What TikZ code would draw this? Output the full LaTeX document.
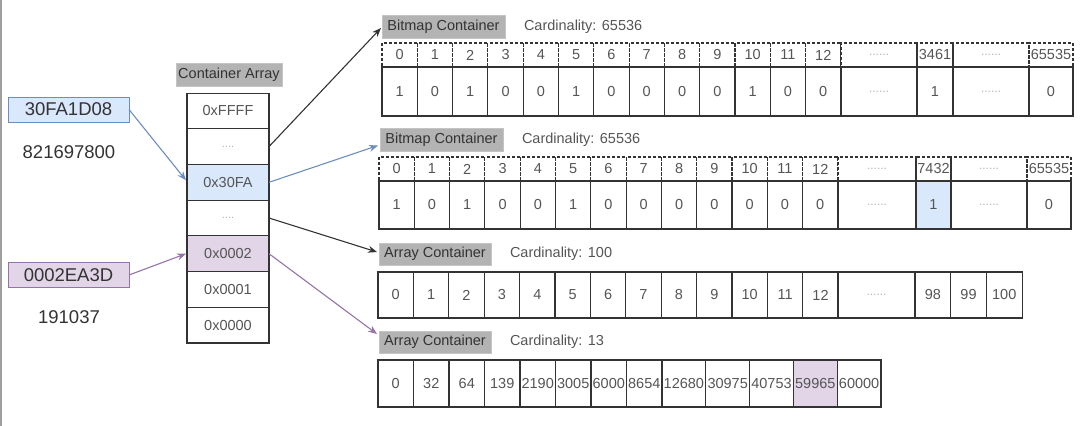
\documentclass[tikz,border=0pt]{standalone}
\usepackage{fontspec}
\setmainfont{Liberation Sans}
\usetikzlibrary{arrows.meta,calc}
\definecolor{bluefill}{HTML}{DAE8FC}
\definecolor{blueline}{HTML}{6C8EBF}
\definecolor{purfill}{HTML}{E1D5E7}
\definecolor{purline}{HTML}{9673A6}
\definecolor{labelgray}{HTML}{B3B3B3}
\definecolor{labelline}{HTML}{C4C4C4}
\definecolor{txt}{HTML}{555555}
\definecolor{darktxt}{HTML}{333333}
\definecolor{cellline}{HTML}{333333}
\newcommand{\celldots}{{\fontsize{12}{12}\selectfont\color{gray!60}......}}
\newcommand{\arrdots}{{\fontsize{11}{11}\selectfont\color{gray!60}....}}
\begin{document}
\begin{tikzpicture}[x=1pt,y=-1pt,
  base/.style={inner sep=0pt, outer sep=0pt, text=txt, font=\fontsize{14.5}{16}\selectfont},
  cellsolid/.style={base, draw=cellline, line width=1.1pt, anchor=west},
  celldash/.style={base, draw=cellline, line width=1.1pt, anchor=west, dash pattern=on 3pt off 2pt},
  arrcell/.style={base, draw=cellline, line width=1.1pt, minimum width=82pt, minimum height=35.7pt},
  graylabel/.style={base, fill=labelgray, draw=labelline, line width=0.8pt, text=darktxt, font=\fontsize{14.5}{16}\selectfont},
  cardtext/.style={base, anchor=west, text=txt, font=\fontsize{14.5}{16}\selectfont},
  keybox/.style={base, line width=0.9pt, minimum width=121pt, minimum height=25pt, text=darktxt, font=\fontsize{18.5}{20}\selectfont},
  bigtext/.style={base, text=darktxt, font=\fontsize{18.5}{20}\selectfont},
  conn/.style={line width=1.1pt, -{Stealth[length=9pt,width=7pt]}}
]
\useasboundingbox (0,0) rectangle (1080,426);
\draw[gray!75, line width=2pt] (1,0) -- (1,426);

% keys
\node[keybox, fill=bluefill, draw=blueline] (k1) at (68.5,109.5) {30FA1D08};
\node[bigtext] (n1) at (69,152) {821697800};
\node[keybox, fill=purfill, draw=purline] (k2) at (68.5,275) {0002EA3D};
\node[bigtext] (n2) at (69,317) {191037};

% container array
\node[graylabel, minimum width=106pt, minimum height=23pt] (ca) at (229,74.5) {Container Array};
\node[arrcell] (c0) at (228,110.9) {0xFFFF};
\node[arrcell] (c1) at (228,146.6) {\arrdots};
\node[arrcell, fill=bluefill] (c2) at (228,182.3) {0x30FA};
\node[arrcell] (c3) at (228,218.0) {\arrdots};
\node[arrcell, fill=purfill] (c4) at (228,253.7) {0x0002};
\node[arrcell] (c5) at (228,289.4) {0x0001};
\node[arrcell] (c6) at (228,325.1) {0x0000};

% labels
\node[graylabel, minimum width=123pt, minimum height=23pt] (b1) at (443.5,26.5) {Bitmap Container};
\node[cardtext] (t1) at (524,27) {Cardinality: 65536};
\node[graylabel, minimum width=123pt, minimum height=23pt] (b2) at (441.5,139.5) {Bitmap Container};
\node[cardtext] (t2) at (522,140) {Cardinality: 65536};
\node[graylabel, minimum width=112pt, minimum height=22pt] (a1) at (435,254) {Array Container};
\node[cardtext] (t3) at (510,254) {Cardinality: 100};
\node[graylabel, minimum width=112pt, minimum height=22pt] (a2) at (435,342) {Array Container};
\node[cardtext] (t4) at (510,342) {Cardinality: 13};

% bitmap 1
\foreach \i/\b in {0/1,1/0,2/1,3/0,4/0,5/1,6/0,7/0,8/0,9/0,10/1,11/0,12/0} {
  \node[cellsolid, minimum width=35.3pt, minimum height=49pt] (pb\i) at ({382+35.3*\i},91.5) {\b};
  \node[celldash, minimum width=35.3pt, minimum height=24pt] (pt\i) at ({382+35.3*\i},55) {\i};
}
\node[cellsolid, minimum width=76pt, minimum height=49pt] (pb13) at (841,91.5) {\celldots};
\node[celldash, minimum width=76pt, minimum height=24pt] (pt13) at (841,55) {\celldots};
\node[cellsolid, minimum width=36pt, minimum height=49pt] (pb14) at (917,91.5) {1};
\node[celldash, minimum width=36pt, minimum height=24pt] (pt14) at (917,55) {3461};
\node[cellsolid, minimum width=76pt, minimum height=49pt] (pb15) at (953,91.5) {\celldots};
\node[celldash, minimum width=76pt, minimum height=24pt] (pt15) at (953,55) {\celldots};
\node[cellsolid, minimum width=44pt, minimum height=49pt] (pb16) at (1029,91.5) {0};
\node[celldash, minimum width=44pt, minimum height=24pt] (pt16) at (1029,55) {65535};

% bitmap 2
\foreach \i/\b in {0/1,1/0,2/1,3/0,4/0,5/1,6/0,7/0,8/0,9/0,10/0,11/0,12/0} {
  \node[cellsolid, minimum width=35.3pt, minimum height=48pt] (qb\i) at ({379+35.3*\i},205) {\b};
  \node[celldash, minimum width=35.3pt, minimum height=24pt] (qt\i) at ({379+35.3*\i},169) {\i};
}
\node[cellsolid, minimum width=78pt, minimum height=48pt] (qb13) at (838,205) {\celldots};
\node[celldash, minimum width=78pt, minimum height=24pt] (qt13) at (838,169) {\celldots};
\node[cellsolid, fill=bluefill, minimum width=35pt, minimum height=48pt] (qb14) at (916,205) {1};
\node[celldash, minimum width=35pt, minimum height=24pt] (qt14) at (916,169) {7432};
\node[cellsolid, minimum width=76pt, minimum height=48pt] (qb15) at (951,205) {\celldots};
\node[celldash, minimum width=76pt, minimum height=24pt] (qt15) at (951,169) {\celldots};
\node[cellsolid, minimum width=44pt, minimum height=48pt] (qb16) at (1027,205) {0};
\node[celldash, minimum width=44pt, minimum height=24pt] (qt16) at (1027,169) {65535};

% array 1
\foreach \i in {0,...,12} {
  \node[cellsolid, minimum width=35.4pt, minimum height=46pt] (r\i) at ({378+35.4*\i},295) {\i};
}
\node[cellsolid, minimum width=77pt, minimum height=46pt] (r13) at (838,295) {\celldots};
\node[cellsolid, minimum width=35.7pt, minimum height=46pt] (r14) at (915,295) {98};
\node[cellsolid, minimum width=35.7pt, minimum height=46pt] (r15) at (950.7,295) {99};
\node[cellsolid, minimum width=35.7pt, minimum height=46pt] (r16) at (986.4,295) {100};

% array 2
\foreach \i/\v in {0/0,1/32,2/64,3/139,4/2190,5/3005,6/6000,7/8654} {
  \node[cellsolid, minimum width=35.5pt, minimum height=47pt] (s\i) at ({378+35.5*\i},383.5) {\v};
}
\foreach \i/\v in {8/12680,9/30975,10/40753,12/60000} {
  \node[cellsolid, minimum width=43.8pt, minimum height=47pt] (s\i) at ({662+43.8*(\i-8)},383.5) {\v};
}
\node[cellsolid, fill=purfill, minimum width=43.8pt, minimum height=47pt] (s11) at ({662+43.8*3},383.5) {59965};

% connectors
\draw[conn, blueline] (k1.east) -- ($(c2.west)+(-1,-2)$);
\draw[conn, purline] (k2.east) -- ($(c4.west)+(-1,0)$);
\draw[conn, darktxt] (c1.east) -- ($(b1.west)+(-1,1.5)$);
\draw[conn, blueline] (c2.east) -- ($(b2.west)+(-2,6)$);
\draw[conn, darktxt] (c3.east) -- ($(a1.west)+(-2,-2)$);
\draw[conn, purline] (c4.east) -- ($(a2.west)+(-2,-8)$);
\end{tikzpicture}
\end{document}
